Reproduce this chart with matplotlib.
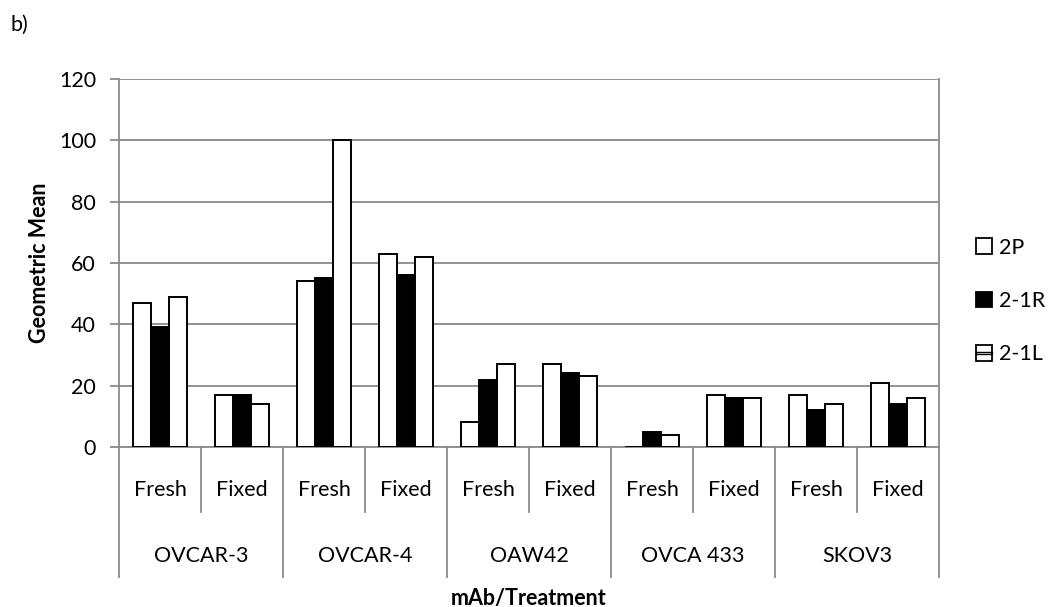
import matplotlib
matplotlib.use("Agg")
import matplotlib.pyplot as plt
from matplotlib.patches import Patch, Rectangle
from matplotlib.lines import Line2D
from matplotlib.legend_handler import HandlerPatch
import numpy as np

plt.rcParams['font.family'] = ['Lato', 'DejaVu Sans']

groups = ["OVCAR-3", "OVCAR-4", "OAW42", "OVCA 433", "SKOV3"]
treatments = ["Fresh", "Fixed"]
series_names = ["2P", "2-1R", "2-1L"]
s_2P = [47, 17, 54, 63, 8, 27, 0, 17, 17, 21]
s_21R = [39, 17, 55, 56, 22, 24, 5, 16, 12, 14]
s_21L = [49, 14, 100, 62, 27, 23, 4, 16, 14, 16]
yticks = [0, 20, 40, 60, 80, 100, 120]

FS = 15.5
GRAY = '#8a8a8a'

fig = plt.figure(figsize=(10.48, 6.07), dpi=100)
ax = fig.add_axes([119/1048, 1 - 447/607, (939-119)/1048, (447-79)/607])

n = len(s_2P)
x = np.arange(n)
w = 0.223
colors = ["white", "black", "white"]
for i, (vals, c) in enumerate(zip([s_2P, s_21R, s_21L], colors)):
    ax.bar(x + (i - 1) * w, vals, width=w, color=c, edgecolor="black", linewidth=1.4, zorder=3)

ax.set_xlim(-0.5, n - 0.5)
ax.set_ylim(0, 120)
ax.set_yticks(yticks)
ax.tick_params(axis='y', length=6.5, width=1.3, color=GRAY, labelsize=FS, pad=10)
ax.grid(axis='y', color=GRAY, linewidth=1.3, zorder=0)
for s in ['top', 'right']:
    ax.spines[s].set_visible(False)
for s in ['left', 'bottom']:
    ax.spines[s].set_color(GRAY)
    ax.spines[s].set_linewidth(1.3)
ax.set_xticks([])
ax.plot([1, 1], [0, 1], transform=ax.transAxes, color=GRAY, lw=1.3, zorder=1, clip_on=False)

# multi-level x axis
trans = ax.get_xaxis_transform()
ax_h = (447 - 79)
def fy(px):  # pixel offset below axis -> axes fraction
    return -px / ax_h
for k in range(n + 1):
    xb = k - 0.5
    depth = 130 if k % 2 == 0 else 65
    ax.plot([xb, xb], [0, fy(depth)], transform=trans, color=GRAY, lw=1.3, clip_on=False)
for k in range(n):
    ax.text(k, fy(43), treatments[k % 2], transform=trans, ha='center', va='center', fontsize=FS)
for g, name in enumerate(groups):
    ax.text(2 * g + 0.5, fy(109), name, transform=trans, ha='center', va='center', fontsize=FS)

ax.text(0.5, fy(151), "mAb/Treatment", transform=ax.transAxes, ha='center', va='center',
        fontsize=FS, fontweight='bold')
fig.text(40/1048, 1 - 263/607, "Geometric Mean", fontsize=FS, fontweight='bold',
         rotation=90, ha='center', va='center')

fig.text(10/1048, 1 - 25/607, "b)", fontsize=FS, va='center', ha='left')


class StripedHandler(HandlerPatch):
    def create_artists(self, legend, orig_handle, xdescent, ydescent, width, height, fontsize, trans):
        r = Rectangle((-xdescent, -ydescent), width, height, facecolor='white',
                      edgecolor='black', linewidth=1.3, transform=trans)
        ym = -ydescent + height / 2
        l1 = Line2D([-xdescent, -xdescent + width], [ym + 0.9, ym + 0.9], color='black', lw=1.0, transform=trans)
        l2 = Line2D([-xdescent, -xdescent + width], [ym - 0.9, ym - 0.9], color='black', lw=1.0, transform=trans)
        return [r, l1, l2]


h3 = Patch(facecolor='white', edgecolor='black', linewidth=1.3)
handles = [Patch(facecolor='white', edgecolor='black', linewidth=1.3),
           Patch(facecolor='black', edgecolor='black', linewidth=1.3),
           h3]
fig.legend(handles, series_names, loc='center left', bbox_to_anchor=(965/1048, 1 - 301/607),
           frameon=False, fontsize=FS, handlelength=0.75, handleheight=0.75,
           handletextpad=0.35, labelspacing=1.55, borderpad=0,
           handler_map={h3: StripedHandler()})

fig.savefig("out.png", dpi=100)
